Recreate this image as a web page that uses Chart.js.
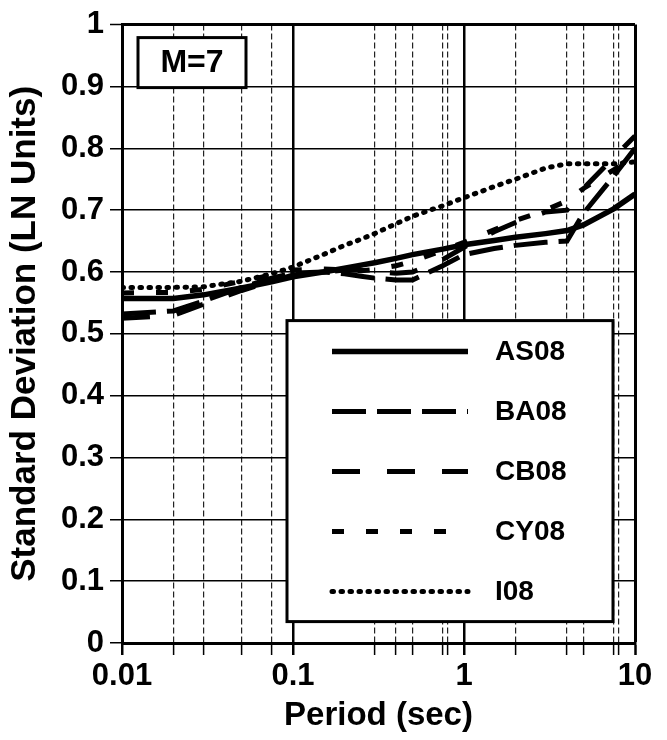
<!DOCTYPE html>
<html>
<head>
<meta charset="utf-8">
<script src="https://cdn.jsdelivr.net/npm/chart.js@4.4.1/dist/chart.umd.min.js"></script>
<style>
  html, body { margin: 0; padding: 0; background: #fff; }
  canvas { display: block; }
</style>
</head>
<body>
<canvas id="sigmaChart" width="667" height="740"></canvas>
<script>
// periods (sec) and standard deviations
const periods = [0.01, 0.02, 0.03, 0.05, 0.075, 0.1, 0.15, 0.2, 0.25, 0.3, 0.4, 0.5, 0.75, 1, 1.5, 2, 3, 4, 5, 7.5, 10];
const as08 = [0.557, 0.557, 0.563, 0.574, 0.584, 0.592, 0.600, 0.606, 0.611, 0.615, 0.622, 0.628, 0.637, 0.644, 0.651, 0.656, 0.662, 0.667, 0.676, 0.702, 0.726];
const ba08 = [0.532, 0.537, 0.553, 0.575, 0.590, 0.598, 0.600, 0.597, 0.593, 0.590, 0.587, 0.587, 0.610, 0.628, 0.638, 0.643, 0.648, 0.650, 0.695, 0.755, 0.800];
const cb08 = [0.525, 0.530, 0.548, 0.570, 0.585, 0.595, 0.600, 0.603, 0.603, 0.600, 0.598, 0.600, 0.620, 0.640, 0.665, 0.680, 0.697, 0.700, 0.735, 0.785, 0.820];
const cy08 = [0.566, 0.567, 0.572, 0.585, 0.595, 0.603, 0.605, 0.603, 0.602, 0.604, 0.610, 0.617, 0.635, 0.648, 0.668, 0.683, 0.700, 0.715, 0.735, 0.765, 0.790];
const i08 = [0.575, 0.575, 0.576, 0.585, 0.597, 0.608, 0.628, 0.643, 0.653, 0.662, 0.678, 0.690, 0.707, 0.720, 0.738, 0.750, 0.768, 0.775, 0.775, 0.775, 0.778];

// vertical grid lines in the original plot
const xGridValues = [0.01, 0.02, 0.03, 0.05, 0.075, 0.1, 0.3, 0.4, 0.5, 0.75, 0.8, 1, 2, 4, 5, 7.5, 8, 10];
const xLabelValues = [0.01, 0.1, 1, 10];
const magnitudeLabel = 'M=7';

const FONT = '"Liberation Sans", Arial, sans-serif';

function toPoints(ys) {
  return periods.map((p, i) => ({ x: p, y: ys[i] }));
}

function isMajor(v) {
  return xLabelValues.some(m => Math.abs(m - v) < 1e-9);
}

// legend box and M=7 box drawn inside the plot
const boxesPlugin = {
  id: 'boxes',
  afterDatasetsDraw(chart) {
    const ctx = chart.ctx;
    const area = chart.chartArea;
    ctx.save();

    // magnitude box
    const mx = area.left + 16, my = area.top + 13, mw = 108, mh = 50;
    ctx.fillStyle = '#fff';
    ctx.fillRect(mx, my, mw, mh);
    ctx.lineWidth = 3;
    ctx.strokeStyle = '#000';
    ctx.strokeRect(mx, my, mw, mh);
    ctx.fillStyle = '#000';
    ctx.font = 'bold 32px ' + FONT;
    ctx.textAlign = 'center';
    ctx.textBaseline = 'middle';
    ctx.fillText(magnitudeLabel, mx + mw / 2, my + mh / 2 + 1);

    // legend
    const lx = area.left + 165, ly = area.top + 296, lw = 326, lh = 301;
    ctx.fillStyle = '#fff';
    ctx.fillRect(lx, ly, lw, lh);
    ctx.lineWidth = 3;
    ctx.strokeRect(lx, ly, lw, lh);

    ctx.font = 'bold 28px ' + FONT;
    ctx.textAlign = 'left';
    chart.data.datasets.forEach((ds, i) => {
      const y = ly + 31 + i * 60;
      ctx.beginPath();
      ctx.setLineDash(ds.borderDash || []);
      ctx.lineCap = ds.borderCapStyle || 'butt';
      ctx.lineWidth = ds.borderWidth;
      ctx.strokeStyle = '#000';
      ctx.moveTo(lx + 45, y);
      ctx.lineTo(lx + 181, y);
      ctx.stroke();
      ctx.setLineDash([]);
      ctx.fillStyle = '#000';
      ctx.fillText(ds.label, lx + 208, y + 1);
    });
    ctx.restore();
  }
};

const ctx = document.getElementById('sigmaChart').getContext('2d');
new Chart(ctx, {
  type: 'line',
  data: {
    datasets: [
      { label: 'AS08', data: toPoints(as08), borderWidth: 5.5, borderDash: [] },
      { label: 'BA08', data: toPoints(ba08), borderWidth: 5, borderDash: [34, 11] },
      { label: 'CB08', data: toPoints(cb08), borderWidth: 5, borderDash: [28, 27] },
      { label: 'CY08', data: toPoints(cy08), borderWidth: 5, borderDash: [12, 22] },
      { label: 'I08', data: toPoints(i08), borderWidth: 5, borderDash: [1.5, 7.5], borderCapStyle: 'round' }
    ].map(ds => Object.assign({
      borderColor: '#000',
      backgroundColor: '#000',
      pointRadius: 0,
      tension: 0,
      fill: false
    }, ds))
  },
  options: {
    responsive: false,
    animation: false,
    layout: { padding: { top: 23, right: 32, left: 0, bottom: 0 } },
    plugins: {
      legend: { display: false },
      tooltip: { enabled: false }
    },
    scales: {
      x: {
        type: 'logarithmic',
        min: 0.01,
        max: 10,
        afterBuildTicks: (scale) => {
          scale.ticks = xGridValues.map(v => ({ value: v }));
        },
        afterFit: (scale) => { scale.height = 97; },
        ticks: {
          autoSkip: false,
          maxRotation: 0,
          minRotation: 0,
          padding: 3,
          color: '#000',
          font: { family: FONT, size: 31, weight: 'bold' },
          callback: (v) => isMajor(v) ? String(v) : ''
        },
        grid: {
          color: (c) => (c.tick && isMajor(c.tick.value)) ? '#000' : '#222',
          lineWidth: (c) => {
            if (!c.tick) return 1;
            if (c.tick.value === 10) return 3;
            return isMajor(c.tick.value) ? 2.5 : 1.2;
          },
          tickLength: 12,
          tickColor: '#000',
          tickWidth: (c) => (c.tick && isMajor(c.tick.value)) ? 2.5 : 1.5
        },
        border: {
          color: '#000',
          width: 3,
          dash: (c) => (c.tick && !isMajor(c.tick.value)) ? [6, 3] : []
        },
        title: {
          display: true,
          text: 'Period (sec)',
          color: '#000',
          padding: 4,
          font: { family: FONT, size: 33, weight: 'bold' }
        }
      },
      y: {
        min: 0,
        max: 1,
        afterFit: (scale) => { scale.width = 122; },
        ticks: {
          stepSize: 0.1,
          padding: 6,
          color: '#000',
          font: { family: FONT, size: 31, weight: 'bold' },
          callback: (v) => Number(v.toFixed(1)).toString()
        },
        grid: {
          color: '#000',
          lineWidth: (c) => (c.tick && c.tick.value >= 0.999) ? 3 : 1.5,
          tickLength: 12,
          tickColor: '#000',
          tickWidth: 1.5
        },
        border: { color: '#000', width: 3 },
        title: {
          display: true,
          text: 'Standard Deviation (LN Units)',
          color: '#000',
          padding: 4,
          font: { family: FONT, size: 35, weight: 'bold' }
        }
      }
    }
  },
  plugins: [boxesPlugin]
});
</script>
</body>
</html>
